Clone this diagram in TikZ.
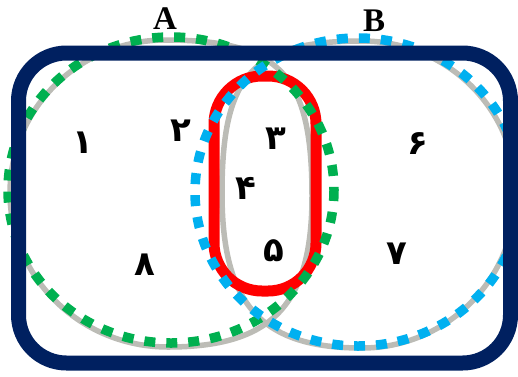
\documentclass[tikz,border=0pt]{standalone}
\usepackage{fontspec}
\setmainfont{Liberation Serif}
\newfontfamily\arabicfont[Script=Arabic]{DejaVu Sans}
\TeXXeTstate=1
\definecolor{navyc}{RGB}{0,32,96}
\definecolor{greenc}{RGB}{0,176,80}
\definecolor{bluec}{RGB}{0,176,240}
\definecolor{grayc}{RGB}{188,188,182}
\definecolor{redc}{RGB}{255,0,0}
\tikzset{
  graycurve/.style={draw=grayc, line width=5.5pt},
  dotsgreen/.style={draw=greenc, line width=9.5pt, dash pattern=on 11pt off 11pt},
  dotsblue/.style={draw=bluec, line width=9.5pt, dash pattern=on 11pt off 11pt},
  redbox/.style={draw=redc, line width=11pt, rounded corners=48pt},
  navybox/.style={draw=navyc, line width=15pt, rounded corners=48pt},
  setlabel/.style={font=\fontsize{33}{36}\selectfont\bfseries, inner sep=0pt},
  digit/.style={font=\arabicfont\bfseries\fontsize{34}{38}\selectfont, inner sep=0pt},
}
\begin{document}
\begin{tikzpicture}[x=1pt,y=-1pt]
\useasboundingbox (0,0) rectangle (518,376);
% gray set outlines
\draw[graycurve] (165,40) .. controls (79.4,40) and (10,108.5) .. (10,193)
  .. controls (10,278) and (80.8,347) .. (168,347)
  .. controls (272,347) and (312,305) .. (312,196)
  .. controls (312,74) and (280,40) .. (165,40) -- cycle;
\draw[graycurve] (362,41) .. controls (447,41) and (516,109) .. (516,193)
  .. controls (516,278.6) and (447,348) .. (362,348)
  .. controls (261,348) and (222,304.6) .. (222,193)
  .. controls (222,74.4) and (252.8,41) .. (362,41) -- cycle;
% red intersection box
\node[redbox, minimum width=102pt, minimum height=215pt, inner sep=0pt] (lens) at (265,183.5) {};
% dotted ellipses
\draw[dotsgreen] (171,190) ellipse [x radius=163, y radius=153];
\draw[dotsblue] (358,192) ellipse [x radius=163, y radius=154];
% universal set
\node[navybox, minimum width=492pt, minimum height=310pt, inner sep=0pt] (univ) at (264.5,208) {};
% labels
\node[setlabel] (la) at (165,19) {A};
\node[setlabel] (lb) at (374,21) {B};
\node[digit] (d1) at (83,143) {\beginR ۱\endR};
\node[digit] (d2) at (181,131) {\beginR ۲\endR};
\node[digit] (d3) at (276,139) {\beginR ۳\endR};
\node[digit] (d4) at (246,188) {\beginR ۴\endR};
\node[digit] (d5) at (274,251) {\beginR ۵\endR};
\node[digit] (d6) at (418,144) {\beginR ۶\endR};
\node[digit] (d7) at (397,254) {\beginR ۷\endR};
\node[digit] (d8) at (145,265) {\beginR ۸\endR};
\end{tikzpicture}
\end{document}
